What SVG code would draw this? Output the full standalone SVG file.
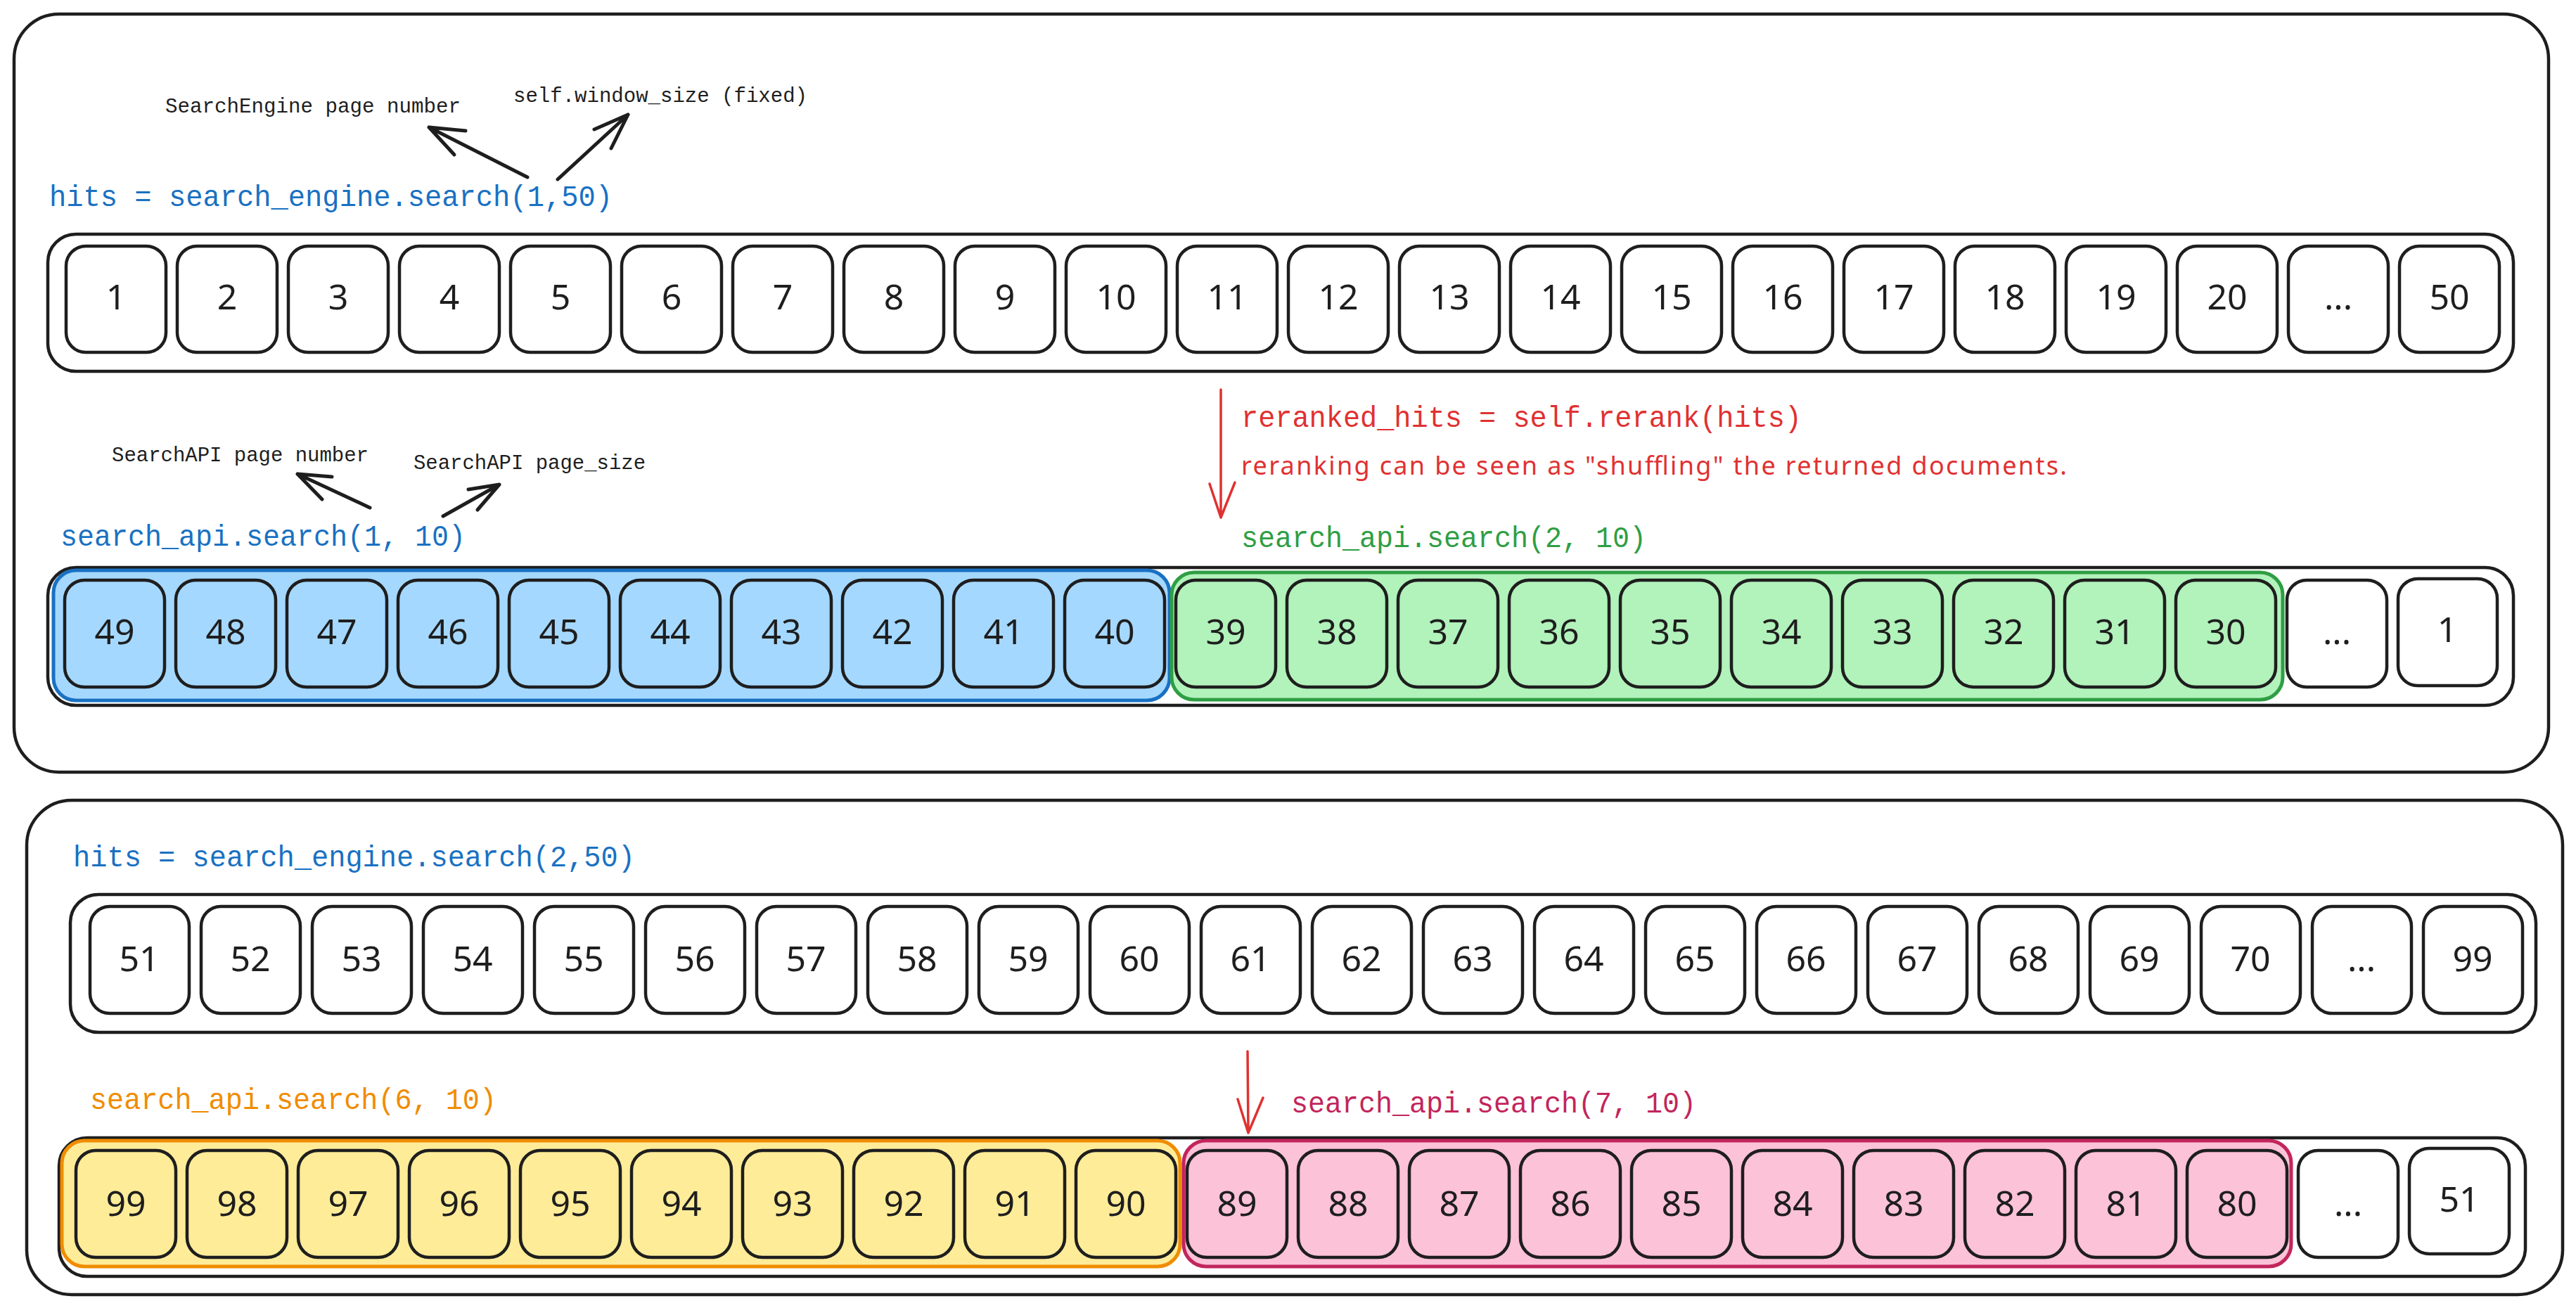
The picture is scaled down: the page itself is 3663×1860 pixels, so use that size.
<svg xmlns="http://www.w3.org/2000/svg" width="3663" height="1860" viewBox="0 0 3663 1860">
<style>
.panel{fill:#ffffff;stroke:#1e1e1e;stroke-width:4.5}
.cont{fill:none;stroke:#1e1e1e;stroke-width:4.5}
.box{fill:#ffffff;stroke:#1e1e1e;stroke-width:4.5}
.bb{fill:#a5d8ff}
.gb{fill:#b2f2bb}
.yb{fill:#ffec99}
.pb{fill:#fcc2d7}
.num{font-family:"Noto Sans","Liberation Sans",sans-serif;font-size:50px;fill:#1e1e1e;text-anchor:middle}
.code{font-family:"Liberation Mono","DejaVu Sans Mono",monospace;font-size:43px}
.note{font-family:"Liberation Mono","DejaVu Sans Mono",monospace;font-size:30px;fill:#1e1e1e}
.hand{font-family:"Noto Sans","Liberation Sans",sans-serif;font-size:36px;fill:#e03131}
.blue{fill:#1971c2}.green{fill:#2f9e44}.orange{fill:#f08c00}.pink{fill:#c2255c}.red{fill:#e03131}
.arr{fill:none;stroke:#1e1e1e;stroke-width:5;stroke-linecap:round;stroke-linejoin:round}
.rarr{fill:none;stroke:#e03131;stroke-width:3.5;stroke-linecap:round;stroke-linejoin:round}
</style>
<rect width="3663" height="1860" fill="#ffffff"/>

<g id="panel-top">
<rect class="panel" x="20" y="20" width="3604" height="1078" rx="64"/>
</g>
<g id="panel-bottom">
<rect class="panel" x="38" y="1138" width="3606" height="703" rx="64"/>
</g>

<g id="label-hits1"><text class="code blue" x="70" y="293" textLength="801" lengthAdjust="spacingAndGlyphs">hits = search_engine.search(1,50)</text></g>
<g id="label-se-page"><text class="note" x="235" y="160" textLength="420" lengthAdjust="spacingAndGlyphs">SearchEngine page number</text></g>
<g id="label-window"><text class="note" x="730" y="145" textLength="418" lengthAdjust="spacingAndGlyphs">self.window_size (fixed)</text></g>
<g id="label-api-page"><text class="note" x="159" y="656" textLength="365" lengthAdjust="spacingAndGlyphs">SearchAPI page number</text></g>
<g id="label-api-size"><text class="note" x="588" y="667" textLength="330" lengthAdjust="spacingAndGlyphs">SearchAPI page_size</text></g>
<g id="label-api1"><text class="code blue" x="86" y="776" textLength="576" lengthAdjust="spacingAndGlyphs">search_api.search(1, 10)</text></g>
<g id="label-rerank"><text class="code red" x="1765" y="607" textLength="797" lengthAdjust="spacingAndGlyphs">reranked_hits = self.rerank(hits)</text></g>
<g id="label-shuffle"><text class="hand" x="1765" y="675" textLength="1174">reranking can be seen as "shuffling" the returned documents.</text></g>
<g id="label-api2"><text class="code green" x="1765" y="778" textLength="576" lengthAdjust="spacingAndGlyphs">search_api.search(2, 10)</text></g>
<g id="label-hits2"><text class="code blue" x="104" y="1232" textLength="799" lengthAdjust="spacingAndGlyphs">hits = search_engine.search(2,50)</text></g>
<g id="label-api6"><text class="code orange" x="128" y="1577" textLength="578" lengthAdjust="spacingAndGlyphs">search_api.search(6, 10)</text></g>
<g id="label-api7"><text class="code pink" x="1836" y="1582" textLength="576" lengthAdjust="spacingAndGlyphs">search_api.search(7, 10)</text></g>

<!-- Row 1 -->
<g id="row1">
<rect class="cont" x="68" y="333" width="3506" height="195" rx="40"/>
<g id="r1-1"><rect class="box" x="94" y="350" width="142" height="151" rx="28"/><text class="num" x="165" y="440">1</text></g>
<g id="r1-2"><rect class="box" x="252" y="350" width="142" height="151" rx="28"/><text class="num" x="323" y="440">2</text></g>
<g id="r1-3"><rect class="box" x="410" y="350" width="142" height="151" rx="28"/><text class="num" x="481" y="440">3</text></g>
<g id="r1-4"><rect class="box" x="568" y="350" width="142" height="151" rx="28"/><text class="num" x="639" y="440">4</text></g>
<g id="r1-5"><rect class="box" x="726" y="350" width="142" height="151" rx="28"/><text class="num" x="797" y="440">5</text></g>
<g id="r1-6"><rect class="box" x="884" y="350" width="142" height="151" rx="28"/><text class="num" x="955" y="440">6</text></g>
<g id="r1-7"><rect class="box" x="1042" y="350" width="142" height="151" rx="28"/><text class="num" x="1113" y="440">7</text></g>
<g id="r1-8"><rect class="box" x="1200" y="350" width="142" height="151" rx="28"/><text class="num" x="1271" y="440">8</text></g>
<g id="r1-9"><rect class="box" x="1358" y="350" width="142" height="151" rx="28"/><text class="num" x="1429" y="440">9</text></g>
<g id="r1-10"><rect class="box" x="1516" y="350" width="142" height="151" rx="28"/><text class="num" x="1587" y="440">10</text></g>
<g id="r1-11"><rect class="box" x="1674" y="350" width="142" height="151" rx="28"/><text class="num" x="1745" y="440">11</text></g>
<g id="r1-12"><rect class="box" x="1832" y="350" width="142" height="151" rx="28"/><text class="num" x="1903" y="440">12</text></g>
<g id="r1-13"><rect class="box" x="1990" y="350" width="142" height="151" rx="28"/><text class="num" x="2061" y="440">13</text></g>
<g id="r1-14"><rect class="box" x="2148" y="350" width="142" height="151" rx="28"/><text class="num" x="2219" y="440">14</text></g>
<g id="r1-15"><rect class="box" x="2306" y="350" width="142" height="151" rx="28"/><text class="num" x="2377" y="440">15</text></g>
<g id="r1-16"><rect class="box" x="2464" y="350" width="142" height="151" rx="28"/><text class="num" x="2535" y="440">16</text></g>
<g id="r1-17"><rect class="box" x="2622" y="350" width="142" height="151" rx="28"/><text class="num" x="2693" y="440">17</text></g>
<g id="r1-18"><rect class="box" x="2780" y="350" width="142" height="151" rx="28"/><text class="num" x="2851" y="440">18</text></g>
<g id="r1-19"><rect class="box" x="2938" y="350" width="142" height="151" rx="28"/><text class="num" x="3009" y="440">19</text></g>
<g id="r1-20"><rect class="box" x="3096" y="350" width="142" height="151" rx="28"/><text class="num" x="3167" y="440">20</text></g>
<g id="r1-dots"><rect class="box" x="3254" y="350" width="142" height="151" rx="28"/><text class="num" x="3325" y="440">...</text></g>
<g id="r1-50"><rect class="box" x="3412" y="350" width="142" height="151" rx="28"/><text class="num" x="3483" y="440">50</text></g>
</g>

<!-- Row 2 -->
<g id="row2">
<rect class="cont" x="68" y="807" width="3506" height="196" rx="40"/>
<g id="hl-blue"><rect x="76" y="811" width="1587" height="185" rx="32" fill="#a5d8ff" stroke="#1971c2" stroke-width="5"/></g>
<g id="hl-green"><rect x="1666" y="814" width="1580" height="181" rx="32" fill="#b2f2bb" stroke="#2f9e44" stroke-width="5"/></g>
<g id="r2-49"><rect class="box bb" x="92" y="825" width="142" height="152" rx="28"/><text class="num" x="163" y="916">49</text></g>
<g id="r2-48"><rect class="box bb" x="250" y="825" width="142" height="152" rx="28"/><text class="num" x="321" y="916">48</text></g>
<g id="r2-47"><rect class="box bb" x="408" y="825" width="142" height="152" rx="28"/><text class="num" x="479" y="916">47</text></g>
<g id="r2-46"><rect class="box bb" x="566" y="825" width="142" height="152" rx="28"/><text class="num" x="637" y="916">46</text></g>
<g id="r2-45"><rect class="box bb" x="724" y="825" width="142" height="152" rx="28"/><text class="num" x="795" y="916">45</text></g>
<g id="r2-44"><rect class="box bb" x="882" y="825" width="142" height="152" rx="28"/><text class="num" x="953" y="916">44</text></g>
<g id="r2-43"><rect class="box bb" x="1040" y="825" width="142" height="152" rx="28"/><text class="num" x="1111" y="916">43</text></g>
<g id="r2-42"><rect class="box bb" x="1198" y="825" width="142" height="152" rx="28"/><text class="num" x="1269" y="916">42</text></g>
<g id="r2-41"><rect class="box bb" x="1356" y="825" width="142" height="152" rx="28"/><text class="num" x="1427" y="916">41</text></g>
<g id="r2-40"><rect class="box bb" x="1514" y="825" width="142" height="152" rx="28"/><text class="num" x="1585" y="916">40</text></g>
<g id="r2-39"><rect class="box gb" x="1672" y="825" width="142" height="152" rx="28"/><text class="num" x="1743" y="916">39</text></g>
<g id="r2-38"><rect class="box gb" x="1830" y="825" width="142" height="152" rx="28"/><text class="num" x="1901" y="916">38</text></g>
<g id="r2-37"><rect class="box gb" x="1988" y="825" width="142" height="152" rx="28"/><text class="num" x="2059" y="916">37</text></g>
<g id="r2-36"><rect class="box gb" x="2146" y="825" width="142" height="152" rx="28"/><text class="num" x="2217" y="916">36</text></g>
<g id="r2-35"><rect class="box gb" x="2304" y="825" width="142" height="152" rx="28"/><text class="num" x="2375" y="916">35</text></g>
<g id="r2-34"><rect class="box gb" x="2462" y="825" width="142" height="152" rx="28"/><text class="num" x="2533" y="916">34</text></g>
<g id="r2-33"><rect class="box gb" x="2620" y="825" width="142" height="152" rx="28"/><text class="num" x="2691" y="916">33</text></g>
<g id="r2-32"><rect class="box gb" x="2778" y="825" width="142" height="152" rx="28"/><text class="num" x="2849" y="916">32</text></g>
<g id="r2-31"><rect class="box gb" x="2936" y="825" width="142" height="152" rx="28"/><text class="num" x="3007" y="916">31</text></g>
<g id="r2-30"><rect class="box gb" x="3094" y="825" width="142" height="152" rx="28"/><text class="num" x="3165" y="916">30</text></g>
<g id="r2-dots"><rect class="box" x="3252" y="825" width="142" height="152" rx="28"/><text class="num" x="3323" y="916">...</text></g>
<g id="r2-1"><rect class="box" x="3410" y="823" width="141" height="152" rx="28"/><text class="num" x="3480" y="913">1</text></g>
</g>

<!-- Row 3 -->
<g id="row3">
<rect class="cont" x="100" y="1272" width="3506" height="196" rx="40"/>
<g id="r3-51"><rect class="box" x="128" y="1289" width="141" height="152" rx="28"/><text class="num" x="198" y="1381">51</text></g>
<g id="r3-52"><rect class="box" x="286" y="1289" width="141" height="152" rx="28"/><text class="num" x="356" y="1381">52</text></g>
<g id="r3-53"><rect class="box" x="444" y="1289" width="141" height="152" rx="28"/><text class="num" x="514" y="1381">53</text></g>
<g id="r3-54"><rect class="box" x="602" y="1289" width="141" height="152" rx="28"/><text class="num" x="672" y="1381">54</text></g>
<g id="r3-55"><rect class="box" x="760" y="1289" width="141" height="152" rx="28"/><text class="num" x="830" y="1381">55</text></g>
<g id="r3-56"><rect class="box" x="918" y="1289" width="141" height="152" rx="28"/><text class="num" x="988" y="1381">56</text></g>
<g id="r3-57"><rect class="box" x="1076" y="1289" width="141" height="152" rx="28"/><text class="num" x="1146" y="1381">57</text></g>
<g id="r3-58"><rect class="box" x="1234" y="1289" width="141" height="152" rx="28"/><text class="num" x="1304" y="1381">58</text></g>
<g id="r3-59"><rect class="box" x="1392" y="1289" width="141" height="152" rx="28"/><text class="num" x="1462" y="1381">59</text></g>
<g id="r3-60"><rect class="box" x="1550" y="1289" width="141" height="152" rx="28"/><text class="num" x="1620" y="1381">60</text></g>
<g id="r3-61"><rect class="box" x="1708" y="1289" width="141" height="152" rx="28"/><text class="num" x="1778" y="1381">61</text></g>
<g id="r3-62"><rect class="box" x="1866" y="1289" width="141" height="152" rx="28"/><text class="num" x="1936" y="1381">62</text></g>
<g id="r3-63"><rect class="box" x="2024" y="1289" width="141" height="152" rx="28"/><text class="num" x="2094" y="1381">63</text></g>
<g id="r3-64"><rect class="box" x="2182" y="1289" width="141" height="152" rx="28"/><text class="num" x="2252" y="1381">64</text></g>
<g id="r3-65"><rect class="box" x="2340" y="1289" width="141" height="152" rx="28"/><text class="num" x="2410" y="1381">65</text></g>
<g id="r3-66"><rect class="box" x="2498" y="1289" width="141" height="152" rx="28"/><text class="num" x="2568" y="1381">66</text></g>
<g id="r3-67"><rect class="box" x="2656" y="1289" width="141" height="152" rx="28"/><text class="num" x="2726" y="1381">67</text></g>
<g id="r3-68"><rect class="box" x="2814" y="1289" width="141" height="152" rx="28"/><text class="num" x="2884" y="1381">68</text></g>
<g id="r3-69"><rect class="box" x="2972" y="1289" width="141" height="152" rx="28"/><text class="num" x="3042" y="1381">69</text></g>
<g id="r3-70"><rect class="box" x="3130" y="1289" width="141" height="152" rx="28"/><text class="num" x="3200" y="1381">70</text></g>
<g id="r3-dots"><rect class="box" x="3288" y="1289" width="141" height="152" rx="28"/><text class="num" x="3358" y="1381">...</text></g>
<g id="r3-99"><rect class="box" x="3446" y="1289" width="141" height="152" rx="28"/><text class="num" x="3516" y="1381">99</text></g>
</g>

<!-- Row 4 -->
<g id="row4">
<rect class="cont" x="84" y="1618" width="3507" height="197" rx="40"/>
<g id="hl-yellow"><rect x="88" y="1622" width="1590" height="179" rx="32" fill="#ffec99" stroke="#f08c00" stroke-width="5"/></g>
<g id="hl-pink"><rect x="1683" y="1622" width="1575" height="179" rx="32" fill="#fcc2d7" stroke="#c2255c" stroke-width="5"/></g>
<g id="r4-99"><rect class="box yb" x="108" y="1636" width="142" height="152" rx="28"/><text class="num" x="179" y="1729">99</text></g>
<g id="r4-98"><rect class="box yb" x="266" y="1636" width="142" height="152" rx="28"/><text class="num" x="337" y="1729">98</text></g>
<g id="r4-97"><rect class="box yb" x="424" y="1636" width="142" height="152" rx="28"/><text class="num" x="495" y="1729">97</text></g>
<g id="r4-96"><rect class="box yb" x="582" y="1636" width="142" height="152" rx="28"/><text class="num" x="653" y="1729">96</text></g>
<g id="r4-95"><rect class="box yb" x="740" y="1636" width="142" height="152" rx="28"/><text class="num" x="811" y="1729">95</text></g>
<g id="r4-94"><rect class="box yb" x="898" y="1636" width="142" height="152" rx="28"/><text class="num" x="969" y="1729">94</text></g>
<g id="r4-93"><rect class="box yb" x="1056" y="1636" width="142" height="152" rx="28"/><text class="num" x="1127" y="1729">93</text></g>
<g id="r4-92"><rect class="box yb" x="1214" y="1636" width="142" height="152" rx="28"/><text class="num" x="1285" y="1729">92</text></g>
<g id="r4-91"><rect class="box yb" x="1372" y="1636" width="142" height="152" rx="28"/><text class="num" x="1443" y="1729">91</text></g>
<g id="r4-90"><rect class="box yb" x="1530" y="1636" width="142" height="152" rx="28"/><text class="num" x="1601" y="1729">90</text></g>
<g id="r4-89"><rect class="box pb" x="1688" y="1636" width="142" height="152" rx="28"/><text class="num" x="1759" y="1729">89</text></g>
<g id="r4-88"><rect class="box pb" x="1846" y="1636" width="142" height="152" rx="28"/><text class="num" x="1917" y="1729">88</text></g>
<g id="r4-87"><rect class="box pb" x="2004" y="1636" width="142" height="152" rx="28"/><text class="num" x="2075" y="1729">87</text></g>
<g id="r4-86"><rect class="box pb" x="2162" y="1636" width="142" height="152" rx="28"/><text class="num" x="2233" y="1729">86</text></g>
<g id="r4-85"><rect class="box pb" x="2320" y="1636" width="142" height="152" rx="28"/><text class="num" x="2391" y="1729">85</text></g>
<g id="r4-84"><rect class="box pb" x="2478" y="1636" width="142" height="152" rx="28"/><text class="num" x="2549" y="1729">84</text></g>
<g id="r4-83"><rect class="box pb" x="2636" y="1636" width="142" height="152" rx="28"/><text class="num" x="2707" y="1729">83</text></g>
<g id="r4-82"><rect class="box pb" x="2794" y="1636" width="142" height="152" rx="28"/><text class="num" x="2865" y="1729">82</text></g>
<g id="r4-81"><rect class="box pb" x="2952" y="1636" width="142" height="152" rx="28"/><text class="num" x="3023" y="1729">81</text></g>
<g id="r4-80"><rect class="box pb" x="3110" y="1636" width="142" height="152" rx="28"/><text class="num" x="3181" y="1729">80</text></g>
<g id="r4-dots"><rect class="box" x="3268" y="1636" width="142" height="152" rx="28"/><text class="num" x="3339" y="1729">...</text></g>
<g id="r4-51"><rect class="box" x="3426" y="1633" width="142" height="150" rx="28"/><text class="num" x="3497" y="1723">51</text></g>
</g>

<g id="connectors">
<path class="arr" d="M750,252 L610,181 M662,186 L610,181 L646,220"/>
<path class="arr" d="M793,255 L893,163 M845,184 L893,163 L869,211"/>
<path class="arr" d="M526,722 L423,674 M472,678 L423,674 L458,710"/>
<path class="arr" d="M630,734 L710,689 M666,696 L710,689 L679,725"/>
<path class="rarr" d="M1736,554 L1736,736 M1720,688 L1736,736 L1756,686"/>
<path class="rarr" d="M1774,1495 L1775,1611 M1760,1563 L1775,1611 L1796,1561"/>
</g>
</svg>
